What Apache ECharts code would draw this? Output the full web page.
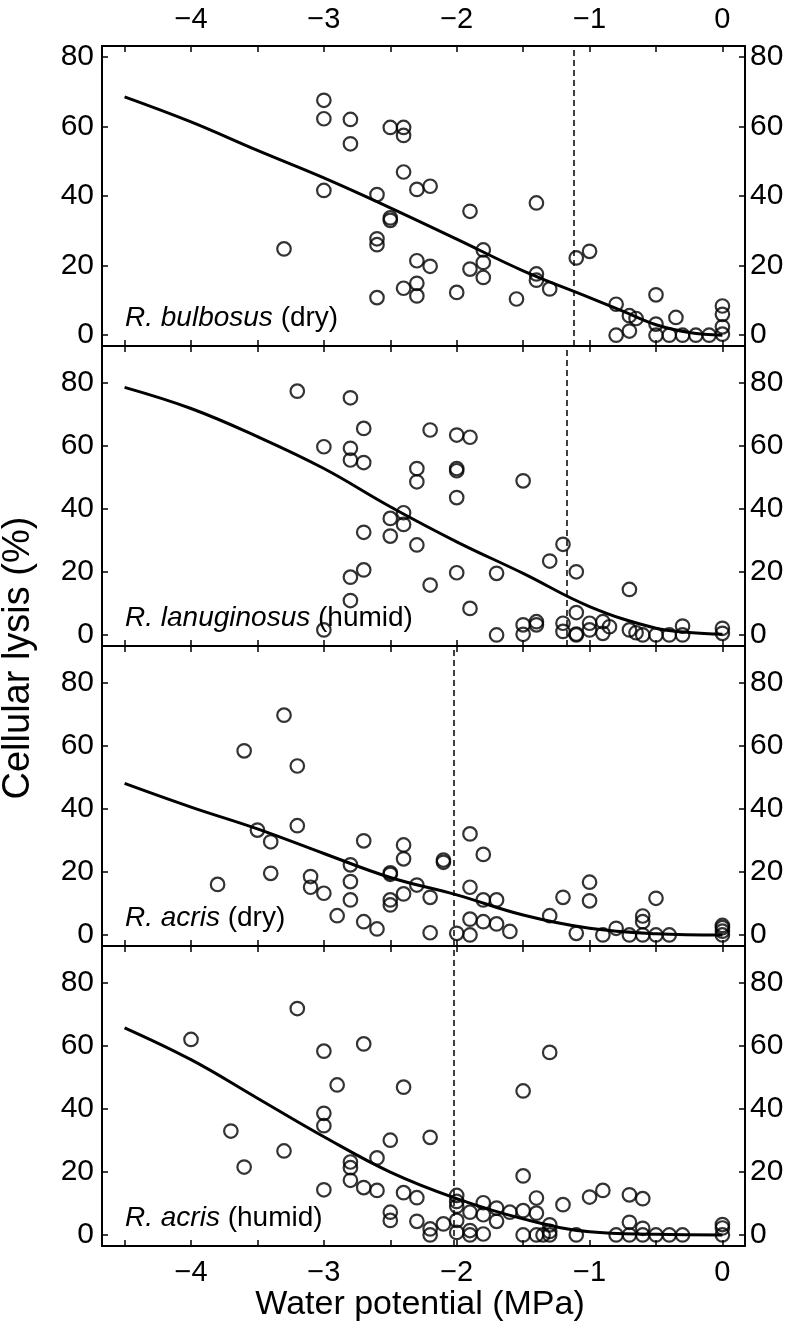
<!DOCTYPE html>
<html>
<head>
<meta charset="utf-8">
<script src="https://cdn.jsdelivr.net/npm/echarts@6/dist/echarts.min.js"></script>
<style>
html,body{margin:0;padding:0;background:#fff;}
#chart{width:789px;height:1335px;}
</style>
</head>
<body>
<div id="chart"></div>
<script>
// ---------- DATA ----------
const xTickValues = [-4.5, -4, -3.5, -3, -2.5, -2, -1.5, -1, -0.5, 0];
const xLabelValues = [-4, -3, -2, -1, 0];
const yLabelValues = [0, 20, 40, 60, 80];

const speciesNames = ['R. bulbosus', 'R. lanuginosus', 'R. acris', 'R. acris'];
const conditions = ['(dry)', '(humid)', '(dry)', '(humid)'];
const thresholds = [-1.12, -1.17, -2.02, -2.02];

const ptsBulbosusDry = [
  [-3.0,67.5],[-3.0,62.2],[-2.8,62.0],[-2.8,55.0],[-2.5,59.7],[-2.4,59.7],[-2.4,57.4],[-2.4,46.9],
  [-2.3,41.9],[-2.2,42.8],[-3.0,41.6],[-2.6,40.4],[-2.5,33.7],[-2.5,33.0],[-2.6,27.7],[-2.6,26.0],
  [-3.3,24.8],[-2.3,21.4],[-2.2,19.8],[-2.3,14.9],[-2.4,13.5],[-2.3,11.3],[-2.6,10.8],
  [-1.9,35.6],[-1.8,24.5],[-1.8,20.9],[-1.9,19.0],[-1.8,16.6],[-2.0,12.3],[-1.55,10.4],[-1.4,38.0],
  [-1.4,17.6],[-1.4,15.8],[-1.3,13.3],[-1.1,22.2],[-1.0,24.1],[-0.8,8.9],[-0.8,0],[-0.7,5.6],
  [-0.7,1.2],[-0.65,4.8],[-0.5,11.6],[-0.5,3.2],[-0.5,0],[-0.4,0],[-0.35,5.1],[-0.3,0],[-0.2,0],
  [-0.1,0],[0,8.4],[0,6.0],[0,2.4],[0,0.3]
];
const ptsLanuginosusHumid = [
  [-3.2,77.2],[-2.8,75.1],[-2.7,65.4],[-3.0,59.6],[-2.8,59.1],[-2.8,55.4],[-2.7,54.6],[-2.2,64.9],
  [-2.3,52.7],[-2.3,48.5],[-2.4,38.7],[-2.5,36.9],[-2.4,35.0],[-2.7,32.5],[-2.5,31.3],[-2.3,28.5],
  [-2.7,20.6],[-2.8,18.3],[-2.2,15.8],[-2.8,10.9],[-3.0,1.6],
  [-2.0,63.3],[-1.9,62.6],[-2.0,52.7],[-2.0,52.0],[-2.0,43.5],[-1.5,48.8],[-2.0,19.7],[-1.9,8.4],
  [-1.7,19.5],[-1.7,0],[-1.5,3.2],[-1.5,0.2],[-1.4,4.2],[-1.4,3.2],[-1.3,23.4],[-1.2,28.7],
  [-1.2,3.7],[-1.2,1.1],[-1.1,20.0],[-1.1,7.1],[-1.1,0],[-1.1,0.3],[-1.0,3.7],[-1.0,1.6],
  [-0.9,4.2],[-0.9,0.5],[-0.85,2.6],[-0.7,14.4],[-0.7,1.6],[-0.65,0.7],[-0.6,0],[-0.5,0],
  [-0.4,0],[-0.3,2.8],[-0.3,0],[0,2.1],[0,0.5]
];
const ptsAcrisDry = [
  [-3.3,69.6],[-3.6,58.3],[-3.2,53.5],[-3.2,34.6],[-3.5,33.2],[-3.4,29.5],[-3.4,19.5],[-3.8,16.0],
  [-2.7,29.8],[-2.4,28.5],[-2.4,24.1],[-2.8,22.2],[-2.8,16.9],[-2.8,11.1],[-3.1,18.5],[-3.1,15.1],
  [-3.0,13.2],[-2.9,6.1],[-2.7,4.2],[-2.6,1.9],[-2.5,19.7],[-2.5,19.2],[-2.5,11.1],[-2.5,9.5],
  [-2.4,13.0],[-2.3,15.8],[-2.2,11.9],[-2.2,0.7],
  [-2.1,23.7],[-2.1,23.0],[-2.0,0.5],[-1.9,32.0],[-1.9,15.1],[-1.9,5.0],[-1.9,0],[-1.8,25.5],
  [-1.8,11.1],[-1.8,4.2],[-1.7,11.1],[-1.7,3.5],[-1.6,1.1],[-1.3,6.1],[-1.2,11.9],[-1.1,0.5],
  [-1.0,16.7],[-1.0,10.8],[-0.9,0],[-0.8,2.1],[-0.7,0],[-0.6,6.0],[-0.6,4.2],[-0.6,0],
  [-0.5,11.6],[-0.5,0],[-0.4,0],[0,3.0],[0,2.3],[0,1.2],[0,0]
];
const ptsAcrisHumid = [
  [-4.0,61.9],[-3.2,71.7],[-3.0,58.2],[-2.7,60.5],[-2.9,47.5],[-2.4,46.8],[-3.0,38.5],[-3.0,34.6],
  [-3.7,32.9],[-2.5,30.0],[-2.2,30.9],[-3.3,26.6],[-2.6,24.4],[-3.6,21.5],[-2.8,23.1],[-2.8,21.3],
  [-2.8,17.3],[-3.0,14.3],[-2.7,15.0],[-2.6,14.1],[-2.4,13.4],[-2.3,11.8],[-2.5,7.2],[-2.5,4.6],
  [-2.3,4.3],[-2.2,1.9],[-2.2,0],
  [-2.1,3.5],[-2.0,12.5],[-2.0,10.6],[-2.0,9.1],[-2.0,4.6],[-2.0,0.8],[-1.9,1.4],[-1.9,0],
  [-1.9,7.2],[-1.8,10.2],[-1.8,6.4],[-1.8,0.3],[-1.7,8.5],[-1.7,4.3],[-1.6,7.2],[-1.5,45.6],
  [-1.5,18.7],[-1.5,7.7],[-1.5,0],[-1.4,11.7],[-1.4,6.9],[-1.4,0],[-1.35,0],[-1.3,57.8],
  [-1.3,3.2],[-1.3,1.1],[-1.3,0],[-1.2,9.6],[-1.1,0],[-1.0,12.0],[-0.9,14.1],[-0.8,0],
  [-0.7,12.7],[-0.7,4.0],[-0.7,0],[-0.6,11.5],[-0.6,2.1],[-0.6,0],[-0.5,0],[-0.4,0],[-0.3,0],
  [0,3.3],[0,2.2],[0,0]
];

const fitBulbosusDry = [[-4.5,68.5],[-4,61.3],[-3.5,53.1],[-3,45.2],[-2.5,36.6],[-2,27.6],[-1.5,18.5],[-1,10.8],[-0.75,6.9],[-0.5,3.0],[-0.25,0.8],[0,0]];
const fitLanuginosusHumid = [[-4.5,78.4],[-4,71.7],[-3.5,62.8],[-3,52.7],[-2.5,40.6],[-2,29.5],[-1.5,19.5],[-1,9.0],[-0.5,2.1],[-0.25,0.8],[0,0.2]];
const fitAcrisDry = [[-4.5,48],[-4,40.5],[-3.5,33.6],[-3,25.8],[-2.5,18.2],[-2,12.7],[-1.5,6.3],[-1,2.1],[-0.5,0.4],[0,0]];
const fitAcrisHumid = [[-4.5,65.6],[-4,55.5],[-3.5,43.3],[-3,31.1],[-2.5,19.9],[-2,11.5],[-1.5,5.1],[-1,1.0],[-0.5,0.2],[0,0]];

const yRanges = [[-3.1, 83.1], [-3.5, 91.5], [-3.5, 91.5], [-3.5, 91.5]];
const xRange = [-4.67, 0.17];

// ---------- BUILD ----------
const FONT = "'Liberation Sans', Arial, Helvetica, sans-serif";
const pts = [ptsBulbosusDry, ptsLanuginosusHumid, ptsAcrisDry, ptsAcrisHumid];
const fits = [fitBulbosusDry, fitLanuginosusHumid, fitAcrisDry, fitAcrisHumid];

const G_LEFT = 102, G_RIGHT = 44, G_TOP = 46, G_H = 300;
const fmtX = v => (v < 0 ? '\u2212' + Math.abs(v) : String(v));

const grid = [], xAxis = [], yAxis = [], series = [], graphic = [];
const lineW = 2;
for (let i = 0; i < 4; i++) {
  grid.push({left: G_LEFT, right: G_RIGHT, top: G_TOP + i * G_H, height: G_H, containLabel: false});
  const xBase = {
    type: 'value', gridIndex: i, min: xRange[0], max: xRange[1],
    axisLine: {show: true, onZero: false, lineStyle: {color: '#000', width: lineW}},
    axisTick: {show: true, inside: true, length: 6, customValues: xTickValues, lineStyle: {color: '#000', width: 1.5}},
    splitLine: {show: false}
  };
  xAxis.push(Object.assign({}, xBase, {position: 'bottom',
    axisLabel: {show: i === 3, customValues: xLabelValues, formatter: fmtX, margin: 12, fontSize: 29, color: '#000', fontFamily: FONT}}));
  xAxis.push(Object.assign({}, xBase, {position: 'top',
    axisLabel: {show: i === 0, customValues: xLabelValues, formatter: fmtX, margin: 12, fontSize: 29, color: '#000', fontFamily: FONT}}));
  const yBase = {
    type: 'value', gridIndex: i, min: yRanges[i][0], max: yRanges[i][1],
    axisLine: {show: true, onZero: false, lineStyle: {color: '#000', width: lineW}},
    axisTick: {show: true, inside: true, length: 6, customValues: yLabelValues, lineStyle: {color: '#000', width: 1.5}},
    splitLine: {show: false}
  };
  yAxis.push(Object.assign({}, yBase, {position: 'left',
    axisLabel: {show: true, customValues: yLabelValues, margin: 8, fontSize: 30, color: '#000', fontFamily: FONT}}));
  yAxis.push(Object.assign({}, yBase, {position: 'right',
    axisLabel: {show: true, customValues: yLabelValues, margin: 5, fontSize: 30, color: '#000', fontFamily: FONT}}));

  series.push({
    type: 'scatter', xAxisIndex: 2 * i, yAxisIndex: 2 * i, data: pts[i],
    symbol: 'circle', symbolSize: 13.5,
    itemStyle: {color: 'rgba(0,0,0,0)', borderColor: '#000', borderWidth: 2.2},
    z: 3,
    markLine: {
      silent: true, symbol: 'none', label: {show: false},
      lineStyle: {type: [6, 4], width: 1.5, color: '#000'},
      data: [{xAxis: thresholds[i]}]
    }
  });
  series.push({
    type: 'line', xAxisIndex: 2 * i, yAxisIndex: 2 * i, data: fits[i],
    smooth: 0.4, showSymbol: false, symbol: 'none',
    lineStyle: {color: '#000', width: 3}, z: 4
  });
  graphic.push({
    type: 'text', left: 125, top: G_TOP + (i + 1) * G_H - 28 - 15,
    style: {
      text: '{i|' + speciesNames[i] + '} ' + conditions[i],
      fontSize: 28, fontFamily: FONT, fill: '#000', lineHeight: 30,
      rich: {i: {fontStyle: 'italic', fontSize: 28, fontFamily: FONT, fill: '#000', lineHeight: 30}}
    },
    z: 10
  });
}
graphic.push({
  type: 'text', x: 420, y: 1305,
  style: {text: 'Water potential (MPa)', fontSize: 34, fontFamily: FONT, fill: '#000', align: 'center', verticalAlign: 'middle'}
});
graphic.push({
  type: 'text', x: 19, y: 658, rotation: Math.PI / 2,
  style: {text: 'Cellular lysis (%)', fontSize: 38, fontFamily: FONT, fill: '#000', align: 'center', verticalAlign: 'middle'}
});

const chart = echarts.init(document.getElementById('chart'), null, {renderer: 'canvas'});
chart.setOption({
  animation: false,
  backgroundColor: '#fff',
  grid, xAxis, yAxis, series, graphic
});
</script>
</body>
</html>
